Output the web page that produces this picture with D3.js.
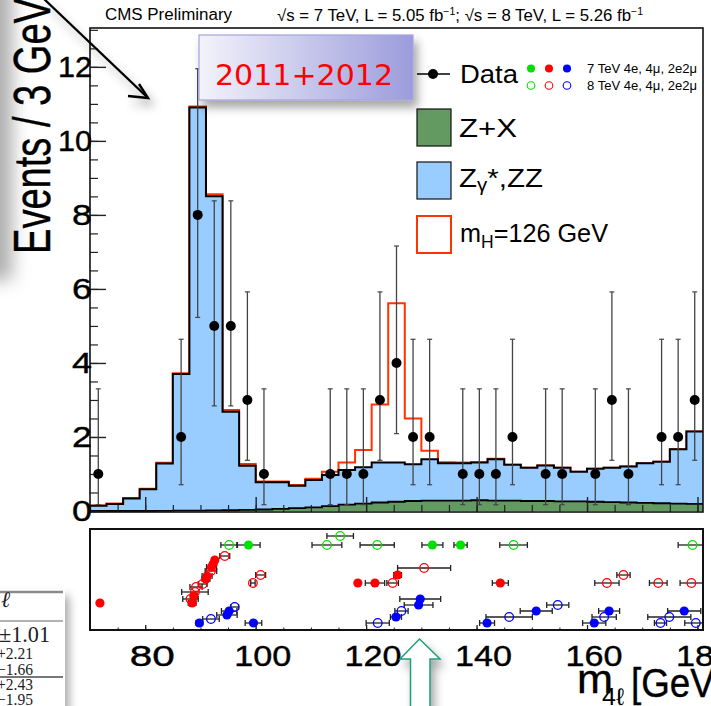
<!DOCTYPE html>
<html>
<head>
<meta charset="utf-8">
<script src="https://cdn.jsdelivr.net/npm/d3@7"></script>
<style>
html, body { margin: 0; padding: 0; background: #fff; }
svg { display: block; }
</style>
</head>
<body>
<div id="chart"></div>
<script>
// m4l histogram, 3 GeV bins
const binEdges = [70, 73, 76, 79, 82, 85, 88, 91, 94, 97, 100, 103, 106, 109, 112, 115, 118, 121, 124,
    127, 130, 133, 136, 139, 142, 145, 148, 151, 154, 157, 160, 163, 166, 169, 172, 175, 178, 181];
const zxYield = [0, 0, 0, 0, 0.005, 0.01, 0.01, 0.015, 0.02, 0.03, 0.04, 0.06, 0.08, 0.1, 0.13, 0.17, 0.2, 0.23, 0.25,
    0.27, 0.28, 0.28, 0.28, 0.29, 0.28, 0.28, 0.27, 0.27, 0.26, 0.26, 0.25, 0.24, 0.23, 0.22, 0.21, 0.2, 0.19];
const zzYield = [0.14, 0.19, 0.34, 0.59, 1.28, 3.69, 10.89, 8.49, 2.66, 1.19, 0.74, 0.72, 0.6, 0.74, 0.84, 0.94, 0.98, 1.08, 1.06,
    0.99, 1.12, 1.01, 1.01, 1.02, 1.12, 0.97, 0.9, 0.96, 0.91, 0.8, 0.89, 0.93, 0.97, 1.07, 1.12, 1.47, 1.96];
const sigYield = [0.01, 0.01, 0.01, 0.01, 0.02, 0.02, 0.03, 0.05, 0.05, 0.05, 0.02, 0.02, 0.02, 0.03, 0.09, 0.2, 0.47, 1.57, 4.3,
    1.24, 0.23, 0.03, 0.02, 0.01, 0.01, 0, 0, 0, 0, 0, 0, 0, 0, 0, 0, 0, 0];

// observed events per bin (bin centre, count, poisson interval)
const dataMass = [71.5, 86.5, 89.5, 92.5, 95.5, 98.5, 101.5, 113.5, 116.5, 119.5, 122.5, 125.5, 128.5,
    131.5, 137.5, 140.5, 143.5, 146.5, 152.5, 155.5, 161.5, 164.5, 167.5, 173.5, 176.5, 179.5];
const dataCount = [1, 2, 8, 5, 5, 3, 1, 1, 1, 1, 3, 4, 2, 2, 1, 1, 1, 2, 1, 1, 1, 3, 1, 2, 2, 3];
const dataLow = [0.17, 0.71, 5.23, 2.84, 2.84, 1.37, 0.17, 0.17, 0.17, 0.17, 1.37, 2.09, 0.71, 0.71, 0.17, 0.17, 0.17,
    0.71, 0.17, 0.17, 0.17, 1.37, 0.17, 0.71, 0.71, 1.37];
const dataHigh = [3.3, 4.64, 11.95, 8.38, 8.38, 5.92, 3.3, 3.3, 3.3, 3.3, 5.92, 7.16, 4.64, 4.64, 3.3, 3.3, 3.3,
    4.64, 3.3, 3.3, 3.3, 5.92, 3.3, 4.64, 4.64, 5.92];

// per-event panel: [mass, mass error, row, filled(7TeV)=1 / open(8TeV)=0]
const events4e = [[95.2, 1.5, 85, 0], [98.7, 2.1, 85, 1], [115.3, 2.4, 94, 0], [112.9, 2.7, 85, 0], [122.0, 3.1, 85, 0],
    [132.0, 1.9, 85, 1], [137.1, 1.2, 85, 1], [146.7, 2.5, 85, 0], [179.1, 2.6, 85, 0]];
const events4mu = [[71.8, 0, 27, 1], [88.2, 1.4, 31, 0], [88.5, 0.7, 27, 1], [88.8, 0.6, 34, 1], [89.0, 2.4, 38, 0],
    [89.2, 1.1, 43, 0], [90.4, 0.8, 46, 0], [91.0, 0.7, 51, 1], [91.2, 0.9, 54, 1], [91.9, 1.05, 59, 0], [92.0, 0.9, 63, 1],
    [92.3, 0.5, 66, 1], [92.6, 0.5, 70, 1], [94.4, 0.9, 74, 0], [100.9, 0.9, 55, 0], [99.5, 0.4, 47, 0], [118.5, 0.3, 47, 1],
    [121.6, 1.75, 47, 1], [124.8, 1.05, 47, 0], [125.7, 0.7, 55, 1], [130.5, 4.8, 62, 0], [144.3, 1.45, 47, 1],
    [163.6, 2.2, 47, 0], [166.6, 1.2, 55, 0], [172.9, 1.6, 47, 0], [178.9, 2.05, 47, 0]];
const events2e2mu = [[89.8, 0.6, 7, 1], [91.9, 1.5, 11, 0], [94.8, 1.85, 15, 1], [95.2, 1.4, 19, 1], [96.2, 0.7, 23, 0],
    [99.6, 1.5, 7, 1], [122.1, 2.1, 7, 0], [125.4, 1.0, 13, 1], [126.4, 1.2, 19, 0], [129.8, 3.7, 31, 1], [129.5, 2.6, 25, 1],
    [141.9, 1.35, 7, 1], [145.9, 4.2, 13, 0], [150.8, 2.9, 19, 1], [154.7, 2.0, 25, 0], [161.3, 2.1, 7, 1],
    [163.1, 2.2, 13, 0], [164.0, 1.9, 19, 1], [173.3, 1.1, 7, 0], [174.9, 3.9, 13, 0], [177.6, 3.0, 19, 1], [179.7, 2.0, 7, 0]];

const xTickLabels = [80, 100, 120, 140, 160, 180];
const yTickLabels = [0, 2, 4, 6, 8, 10, 12];
const tableLines = ["+2.21", "\u22121.66", "+2.43", "\u22121.95"];

const W = 711, H = 706;
const FONT = "'Liberation Sans', Arial, sans-serif";

const svg = d3.select("#chart").append("svg")
    .attr("width", W)
    .attr("height", H);

const defs = svg.append("defs");
const shadow = defs.append("filter").attr("id", "shadow")
    .attr("x", "-30%").attr("y", "-30%").attr("width", "170%").attr("height", "170%");
shadow.append("feDropShadow").attr("dx", 4).attr("dy", 7).attr("stdDeviation", 5)
    .attr("flood-color", "#000").attr("flood-opacity", 0.35);

const blur = defs.append("filter").attr("id", "blur")
    .attr("x", "-100%").attr("y", "-50%").attr("width", "300%").attr("height", "200%");
blur.append("feGaussianBlur").attr("stdDeviation", 9);

const boxGrad = defs.append("linearGradient").attr("id", "boxGrad");
boxGrad.append("stop").attr("offset", "0%").attr("stop-color", "#f3f3fb");
boxGrad.append("stop").attr("offset", "100%").attr("stop-color", "#9c9cdc");

defs.append("clipPath").attr("id", "mainClip")
    .append("rect").attr("x", 90).attr("y", 28).attr("width", 613).attr("height", 484);

// scales
const x = d3.scaleLinear().domain([70, 181]).range([90, 703]);
const y = d3.scaleLinear().domain([0, 13.05]).range([511, 28]);
const yl = d3.scaleLinear().domain([0, 101]).range([630, 529]);

// helper for squeezed ROOT-like text
function label(g, txt, x0, yb, size, len, opts = {}) {
    const t = g.append("text")
        .attr("x", x0)
        .attr("y", yb)
        .attr("font-family", opts.family || FONT)
        .attr("font-size", size)
        .attr("fill", opts.fill || "#000")
        .text(txt);
    if (len) t.attr("textLength", len).attr("lengthAdjust", "spacingAndGlyphs");
    return t;
}

// slide shadow at left edge
svg.append("rect").attr("x", -30).attr("y", -20).attr("width", 42).attr("height", 300)
    .attr("fill", "#8a8a8a").attr("opacity", 0.7).attr("filter", "url(#blur)");

// ---------- main panel ----------
const rows = binEdges.map((e, i) => {
    const k = Math.min(i, zxYield.length - 1);
    return { edge: e, zx: zxYield[k], zz: zzYield[k], sig: sigYield[k] };
});
const stacked = d3.stack().keys(["zx", "zz", "sig"])(rows);

const area = d3.area()
    .curve(d3.curveStepAfter)
    .x(d => x(d.data.edge))
    .y0(d => y(d[0]))
    .y1(d => y(d[1]));
const outline = d3.line()
    .curve(d3.curveStepAfter)
    .x(d => x(d.data.edge))
    .y(d => y(d[1]));

const plot = svg.append("g").attr("clip-path", "url(#mainClip)");

plot.append("path").attr("d", outline(stacked[2]))
    .attr("fill", "none").attr("stroke", "#ff3300").attr("stroke-width", 2);
plot.append("path").attr("d", area(stacked[1]))
    .attr("fill", "#99ccff");
plot.append("path").attr("d", outline(stacked[1]))
    .attr("fill", "none").attr("stroke", "#000").attr("stroke-width", 2);
plot.append("path").attr("d", area(stacked[0]))
    .attr("fill", "#639a62");
plot.append("path").attr("d", outline(stacked[0]))
    .attr("fill", "none").attr("stroke", "#000").attr("stroke-width", 1.8);

// axis ticks inside frame
svg.append("g").attr("transform", "translate(0,512)")
    .call(d3.axisBottom(x).ticks(22).tickSize(-7).tickFormat(""))
    .call(g => g.select(".domain").remove())
    .call(g => g.selectAll("line").attr("stroke", "#222").attr("stroke-width", 1.2));
svg.append("g").attr("transform", "translate(0,512)")
    .call(d3.axisBottom(x).ticks(5).tickSize(-15).tickFormat(""))
    .call(g => g.select(".domain").remove())
    .call(g => g.selectAll("line").attr("stroke", "#222").attr("stroke-width", 1.4));
svg.append("g").attr("transform", "translate(90,0)")
    .call(d3.axisRight(y).ticks(26).tickSize(8).tickFormat(""))
    .call(g => g.select(".domain").remove())
    .call(g => g.selectAll("line").attr("stroke", "#222").attr("stroke-width", 1.2));
svg.append("g").attr("transform", "translate(90,0)")
    .call(d3.axisRight(y).tickValues(yTickLabels).tickSize(16).tickFormat(""))
    .call(g => g.select(".domain").remove())
    .call(g => g.selectAll("line").attr("stroke", "#222").attr("stroke-width", 1.4));

// data points
const pts = svg.append("g");
dataMass.forEach((m, i) => {
    const cx = x(m);
    pts.append("line").attr("x1", cx).attr("x2", cx)
        .attr("y1", y(dataLow[i])).attr("y2", y(dataHigh[i]))
        .attr("stroke", "#444").attr("stroke-width", 1.3);
    [dataLow[i], dataHigh[i]].forEach(v => {
        pts.append("line").attr("x1", cx - 2.5).attr("x2", cx + 2.5)
            .attr("y1", y(v)).attr("y2", y(v))
            .attr("stroke", "#444").attr("stroke-width", 1.2);
    });
    pts.append("circle").attr("cx", cx).attr("cy", y(dataCount[i])).attr("r", 5).attr("fill", "#000");
});

// frame
svg.append("rect").attr("x", 90).attr("y", 28).attr("width", 613).attr("height", 484)
    .attr("fill", "none").attr("stroke", "#111").attr("stroke-width", 1.6);

// y tick labels
yTickLabels.forEach(v => {
    const s = String(v);
    const w = s.length > 1 ? 34 : 20;
    label(svg, s, 92 - w, y(v) + 10, 29, w).attr("stroke", "#000").attr("stroke-width", 0.4);
});

// y title
label(svg, "Events / 3 GeV", 0, 0, 52, 256)
    .attr("stroke", "#000").attr("stroke-width", 0.4)
    .attr("transform", "translate(50,254) rotate(-90)");

// header
label(svg, "CMS Preliminary", 105, 20, 16, 127);
svg.append("text")
    .attr("x", 277).attr("y", 21)
    .attr("font-family", FONT).attr("font-size", 16)
    .attr("textLength", 366).attr("lengthAdjust", "spacingAndGlyphs")
    .call(t => {
        t.append("tspan").text("\u221as = 7 TeV, L = 5.05 fb");
        t.append("tspan").attr("dy", -6).attr("font-size", 10).text("\u22121");
        t.append("tspan").attr("dy", 6).text("; \u221as = 8 TeV, L = 5.26 fb");
        t.append("tspan").attr("dy", -6).attr("font-size", 10).text("\u22121");
    });

// legend
const leg = svg.append("g");
leg.append("line").attr("x1", 417).attr("x2", 450).attr("y1", 74).attr("y2", 74)
    .attr("stroke", "#000").attr("stroke-width", 1.3);
leg.append("circle").attr("cx", 433).attr("cy", 74).attr("r", 5).attr("fill", "#000");
label(leg, "Data", 460, 83, 26, 58);

const chanColors = ["#00e000", "#ff0000", "#0000ff"];
chanColors.forEach((c, i) => {
    leg.append("circle").attr("cx", 531 + i * 18).attr("cy", 68.5).attr("r", 4).attr("fill", c);
    leg.append("circle").attr("cx", 531 + i * 18).attr("cy", 85.5).attr("r", 3.8)
        .attr("fill", "none").attr("stroke", c).attr("stroke-width", 1.1);
});
label(leg, "7 TeV 4e, 4\u03bc, 2e2\u03bc", 587, 73, 13, 110);
label(leg, "8 TeV 4e, 4\u03bc, 2e2\u03bc", 587, 90, 13, 110);

leg.append("rect").attr("x", 417).attr("y", 109).attr("width", 34).attr("height", 37)
    .attr("fill", "#639a62").attr("stroke", "#111").attr("stroke-width", 1.2);
label(leg, "Z+X", 459, 137, 26, 58);
leg.append("rect").attr("x", 417).attr("y", 162).attr("width", 34).attr("height", 37)
    .attr("fill", "#99ccff").attr("stroke", "#111").attr("stroke-width", 1.2);
leg.append("text").attr("x", 459).attr("y", 187)
    .attr("font-family", FONT).attr("font-size", 26)
    .attr("textLength", 84).attr("lengthAdjust", "spacingAndGlyphs")
    .call(t => {
        t.append("tspan").text("Z");
        t.append("tspan").attr("font-size", 18).attr("dy", 4).text("\u03b3");
        t.append("tspan").attr("dy", -4).text("*,ZZ");
    });
leg.append("rect").attr("x", 417).attr("y", 216).attr("width", 34).attr("height", 37)
    .attr("fill", "#fff").attr("stroke", "#ff3300").attr("stroke-width", 2);
leg.append("text").attr("x", 460).attr("y", 242)
    .attr("font-family", FONT).attr("font-size", 26)
    .attr("textLength", 148).attr("lengthAdjust", "spacingAndGlyphs")
    .call(t => {
        t.append("tspan").text("m");
        t.append("tspan").attr("font-size", 18).attr("dy", 6).text("H");
        t.append("tspan").attr("dy", -6).text("=126 GeV");
    });

// ---------- per-event panel ----------
const low = svg.append("g");
low.append("rect").attr("x", 90).attr("y", 529).attr("width", 613).attr("height", 101)
    .attr("fill", "#fff");

[events4e, events4mu, events2e2mu].forEach((evts, ci) => {
    const c = chanColors[ci];
    evts.forEach(([m, e, r]) => {
        if (e <= 0) return;
        const xa = Math.max(x(m - e), 90), xb = Math.min(x(m + e), 703), cy = yl(r);
        low.append("line").attr("x1", xa).attr("x2", xb).attr("y1", cy).attr("y2", cy)
            .attr("stroke", "#222").attr("stroke-width", 1.3);
        [xa, xb].forEach(xe => low.append("line").attr("x1", xe).attr("x2", xe)
            .attr("y1", cy - 3).attr("y2", cy + 3).attr("stroke", "#222").attr("stroke-width", 1.3));
    });
    evts.forEach(([m, e, r, f]) => {
        const p = low.append("circle").attr("cx", x(m)).attr("cy", yl(r));
        if (f) p.attr("r", 4.6).attr("fill", c);
        else p.attr("r", 4.3).attr("fill", "none").attr("stroke", c).attr("stroke-width", 1.3);
    });
});

low.append("g").attr("transform", "translate(0,630)")
    .call(d3.axisBottom(x).ticks(22).tickSize(-2.5).tickFormat(""))
    .call(g => g.select(".domain").remove())
    .call(g => g.selectAll("line").attr("stroke", "#222"));
low.append("g").attr("transform", "translate(0,630)")
    .call(d3.axisBottom(x).tickValues(xTickLabels).tickSize(-5).tickFormat(""))
    .call(g => g.select(".domain").remove())
    .call(g => g.selectAll("line").attr("stroke", "#222").attr("stroke-width", 1.3));
low.append("rect").attr("x", 90).attr("y", 529).attr("width", 613).attr("height", 101)
    .attr("fill", "none").attr("stroke", "#111").attr("stroke-width", 2);

// x tick labels
xTickLabels.forEach(v => {
    const s = String(v);
    const w = s.length > 2 ? 57 : 45;
    label(svg, s, x(v) + 7 - w / 2, 666, 29, w).attr("stroke", "#000").attr("stroke-width", 0.4);
});

// x title m_4l [GeV]
label(svg, "m", 577, 693, 40, 36).attr("stroke", "#000").attr("stroke-width", 0.4);
label(svg, "4\u2113", 602, 705, 24, 22);
label(svg, "[GeV]", 631, 697, 40, 94).attr("stroke", "#000").attr("stroke-width", 0.4);

// ---------- slide overlays ----------
// 2011+2012 box
svg.append("rect").attr("x", 199).attr("y", 35).attr("width", 214).attr("height", 65)
    .attr("fill", "url(#boxGrad)").attr("stroke", "#a4a4de").attr("stroke-width", 1.2)
    .attr("filter", "url(#shadow)");
label(svg, "2011+2012", 215, 85, 29, 178, { family: "'DejaVu Sans', Verdana, sans-serif", fill: "#ff0000" });

// black arrow, top left
const arrow = svg.append("g").attr("filter", "url(#shadow)");
arrow.append("line").attr("x1", 43).attr("y1", -2).attr("x2", 148).attr("y2", 98)
    .attr("stroke", "#000").attr("stroke-width", 2.4);
arrow.append("polyline").attr("points", "139,84 148,98 128,96")
    .attr("fill", "none").attr("stroke", "#000").attr("stroke-width", 2.4);

// green arrow, bottom
svg.append("polygon")
    .attr("points", "419.5,639 440,659 430,659 430,712 410.5,712 410.5,659 400,659")
    .attr("fill", "#fff").attr("stroke", "#1e9e7a").attr("stroke-width", 1.5)
    .attr("filter", "url(#shadow)");

// table fragment, bottom left
const tab = svg.append("g");
tab.append("rect").attr("x", -10).attr("y", 589).attr("width", 75).attr("height", 130)
    .attr("fill", "#fff").attr("filter", "url(#shadow)");
tab.append("line").attr("x1", 0).attr("x2", 63).attr("y1", 592).attr("y2", 592)
    .attr("stroke", "#8a8a8a").attr("stroke-width", 2.5);
tab.append("line").attr("x1", 0).attr("x2", 63).attr("y1", 621).attr("y2", 621)
    .attr("stroke", "#666").attr("stroke-width", 1);
tab.append("line").attr("x1", 0).attr("x2", 63).attr("y1", 677).attr("y2", 677)
    .attr("stroke", "#777").attr("stroke-width", 1.8);
const SERIF = "'Liberation Serif', 'DejaVu Serif', serif";
label(tab, "\u2113", 1, 607, 22, null, { family: SERIF, fill: "#222" }).attr("font-style", "italic");
label(tab, "\u00b11.01", -1, 642, 24, 51, { family: SERIF, fill: "#222" });
[659, 675, 690, 705].forEach((yb, i) => {
    label(tab, tableLines[i], -3, yb, 16, 36, { family: SERIF, fill: "#222" });
});
</script>
</body>
</html>
